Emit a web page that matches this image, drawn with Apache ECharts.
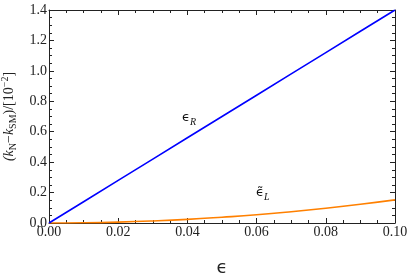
<!DOCTYPE html>
<html><head><meta charset="utf-8">
<script src="https://cdn.jsdelivr.net/npm/echarts@6/dist/echarts.min.js"></script>
<style>html,body{margin:0;padding:0;background:#fff}#c{width:407px;height:276px}</style>
</head><body><div id="c"></div>
<script>
const epsValues = [0, 0.01, 0.02, 0.03, 0.04, 0.05, 0.06, 0.07, 0.08, 0.09, 0.10];
const epsRValues = [0, 0.14, 0.28, 0.42, 0.56, 0.70, 0.84, 0.98, 1.12, 1.26, 1.40];
const epsLValues = [0, 0.0015, 0.006, 0.0136, 0.024, 0.038, 0.054, 0.074, 0.097, 0.123, 0.152];
const xTicks = {min: 0, max: 0.10, step: 0.02};
const yTicks = {min: 0, max: 1.4, step: 0.2};
const labelR = {x: 0.0405, y: 0.69};
const labelL = {x: 0.0618, y: 0.197};

const serif = 'Liberation Serif';
const frameColor = '#222';
const textColor = '#222';

function axisBase(pos, show, isX) {
  const t = isX ? xTicks : yTicks;
  return {
    type: 'value', position: pos, min: t.min, max: t.max, interval: t.step,
    axisLine: {show: true, onZero: false, lineStyle: {color: frameColor, width: 1}},
    axisTick: {show: true, inside: true, length: 5, lineStyle: {color: frameColor}},
    minorTick: {show: true, splitNumber: 4, length: 3, lineStyle: {color: frameColor}},
    splitLine: {show: false},
    axisLabel: {show: show, color: textColor, fontFamily: serif, fontSize: 14,
      margin: 2,
      formatter: v => isX ? v.toFixed(2) : v.toFixed(1)}
  };
}

const chart = echarts.init(document.getElementById('c'), null, {renderer: 'canvas'});
const xa = axisBase('bottom', true, true);
xa.name = 'ϵ';
xa.nameLocation = 'middle';
xa.nameGap = 36;
xa.nameTextStyle = {fontFamily: 'DejaVu Sans', fontSize: 18, color: '#222'};
const ya = axisBase('left', true, false);
ya.name = '{i|(k}{s|N}{n|−}{i|k}{s|SM}{n|)/[10}{p|−2}{n|]}';
ya.nameLocation = 'middle';
ya.nameGap = 30;
ya.nameRotate = 90;
ya.nameTextStyle = {
  color: '#222',
  rich: {
    i: {fontFamily: serif, fontStyle: 'italic', fontSize: 14, color: '#222', lineHeight: 18, verticalAlign: 'middle'},
    n: {fontFamily: serif, fontSize: 14, color: '#222', lineHeight: 18, verticalAlign: 'middle'},
    s: {fontFamily: serif, fontSize: 10, color: '#222', lineHeight: 18, verticalAlign: 'bottom', padding: [6,0,0,0]},
    p: {fontFamily: serif, fontSize: 10, color: '#222', lineHeight: 18, verticalAlign: 'top', padding: [0,0,6,0]}
  }
};
const xTop = axisBase('top', false, true);
const yRight = axisBase('right', false, false);

const subRich = {
  a: {fontFamily: 'DejaVu Sans', fontSize: 13, color: '#111', lineHeight: 18, verticalAlign: 'middle'},
  b: {fontFamily: serif, fontStyle: 'italic', fontSize: 10, color: '#111', lineHeight: 18, verticalAlign: 'bottom', padding: [5,0,0,0]}
};

chart.setOption({
  animation: false,
  grid: {left: 49, right: 12, top: 10, bottom: 53, containLabel: false, outerBoundsMode: 'none'},
  xAxis: [xa, xTop],
  yAxis: [ya, yRight],
  series: [
    {type: 'line', xAxisIndex: 0, yAxisIndex: 0, data: epsValues.map((x, i) => [x, epsRValues[i]]),
     showSymbol: false, lineStyle: {color: '#0000ff', width: 1.6}, z: 3,
     markPoint: {symbolSize: 0, silent: true, data: [{coord: [labelR.x, labelR.y], symbol: 'circle',
       label: {show: true, position: 'inside', formatter: '{a|ϵ}{b|R}', rich: subRich}}]}},
    {type: 'line', xAxisIndex: 0, yAxisIndex: 0, data: epsValues.map((x, i) => [x, epsLValues[i]]),
     showSymbol: false, smooth: true, lineStyle: {color: '#ff8000', width: 1.6}, z: 2,
     markPoint: {symbolSize: 0, silent: true, data: [{coord: [labelL.x, labelL.y], symbol: 'circle',
       label: {show: true, position: 'inside', formatter: '{a|ϵ̃}{b|L}', rich: subRich}}]}}
  ]
});
</script></body></html>
